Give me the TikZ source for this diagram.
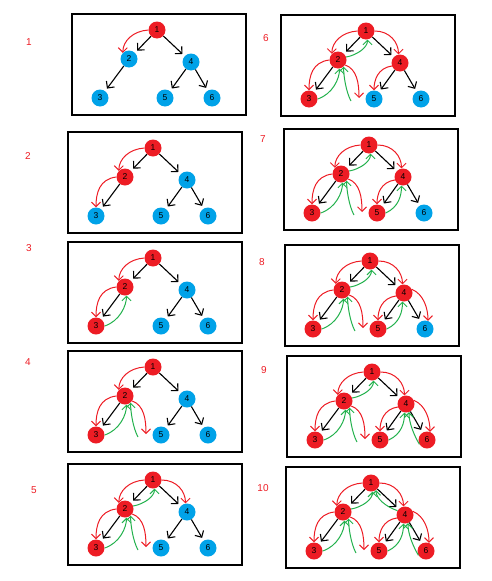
\documentclass[tikz,border=0pt]{standalone}
\usepackage{fontspec}
\setmainfont{Liberation Sans}
\usetikzlibrary{arrows.meta}

\definecolor{paintred}{HTML}{ED1C24}
\definecolor{paintblue}{HTML}{00A2E8}
\definecolor{paintgreen}{HTML}{22B14C}

\tikzset{
  frame/.style={line width=1.4pt},
  ball/.style={circle, minimum size=17pt, inner sep=0pt, font=\fontsize{8.5}{9}\selectfont},
  fresh/.style={fill=paintblue},
  visited/.style={fill=paintred},
  reached/.code={\ifnum\k<#1\relax\pgfkeysalso{/tikz/fresh}\else\pgfkeysalso{/tikz/visited}\fi},
  edge/.style={line width=1.1pt, -{Straight Barb[length=5pt,width=10pt]}, shorten >=3pt},
  godown/.style={paintred, line width=1pt, -{Straight Barb[length=4.5pt,width=9pt]}},
  goback/.style={paintgreen, line width=1pt, -{Straight Barb[length=4.5pt,width=9pt]}},
  steplabel/.style={text=paintred, font=\fontsize{10}{12}\selectfont}
}

\begin{document}
\begin{tikzpicture}[x=1pt,y=-1pt]
    \useasboundingbox (0,0) rectangle (492,581);

    \foreach \k/\px/\py/\lx/\ly in {1/72/14/29/42, 2/68/132/28/156, 3/68/242/29/248,
        4/68/351/28/362, 5/68/464/34/490, 6/281/15/266/38, 7/284/129/263/139,
        8/285/245/262/262, 9/287/356/264/370, 10/286/467/263/488}{
      \node[steplabel] (lab\k) at (\lx,\ly) {\k};
      \begin{scope}[shift={(\px,\py)}, name prefix=p\k-]
        % Frame
        \draw[frame] (0,0) rectangle (174,101);

        % Tree
        \node[ball, reached=1] (n1) at (85,16) {1};
        \node[ball, reached=2] (n2) at (57,45) {2};
        \node[ball, reached=3] (n3) at (28,84) {3};
        \node[ball, reached=6] (n4) at (119,48) {4};
        \node[ball, reached=7] (n5) at (93,84) {5};
        \node[ball, reached=9] (n6) at (140,84) {6};
        \draw[edge] (n1) -- (n2);
        \draw[edge] (n1) -- (n4);
        \draw[edge] (n2) -- (n3);
        \draw[edge] (n4) -- (n5);
        \draw[edge] (n4) -- (n6);

        % Left subtree
        \draw[godown] (n1.west) .. controls +(-15,1) and +(0,-12) .. (n2.north west);
        \ifnum\k>1 \draw[godown] (n2.west) .. controls +(-17,2) and +(0,-14) .. (n3.north); \fi
        \ifnum\k>2 \draw[goback] (n3.east) .. controls +(15,-5) and +(0,10) .. (n2.-80); \fi
        \ifnum\k>3
          \coordinate (nil) at (78,83);
          \coordinate (nilup) at (70,86);
          \draw[godown] (n2.-35) .. controls +(12,4) and +(0,-14) .. (nil);
          \draw[goback] (nilup) .. controls +(-5,-9) and +(0,9) .. (n2.-50);
        \fi

        % Right subtree
        \ifnum\k>4
          \draw[goback] (n2.20) .. controls +(11,-2) and +(0,8) .. (n1.-80);
          \draw[godown] (n1.east) .. controls +(15,0) and +(0,-12) .. (n4.100);
        \fi
        \ifnum\k>5 \draw[godown] (n4.200) .. controls +(-14,2) and +(0,-10) .. (n5.north); \fi
        \ifnum\k>6 \draw[goback] (n5.east) .. controls +(13,-6) and +(0,10) .. (n4.-100); \fi
        \ifnum\k>7 \draw[godown] (n4.25) .. controls +(12,5) and +(0,-12) .. (n6.70); \fi
        \ifnum\k>8 \draw[goback] (n6.210) .. controls +(-6,-10) and +(0,10) .. (n4.-70); \fi
        \ifnum\k>9 \draw[goback] (n4.150) .. controls +(-12,-4) and +(0,8) .. (n1.-55); \fi
      \end{scope}
    }
\end{tikzpicture}
\end{document}
